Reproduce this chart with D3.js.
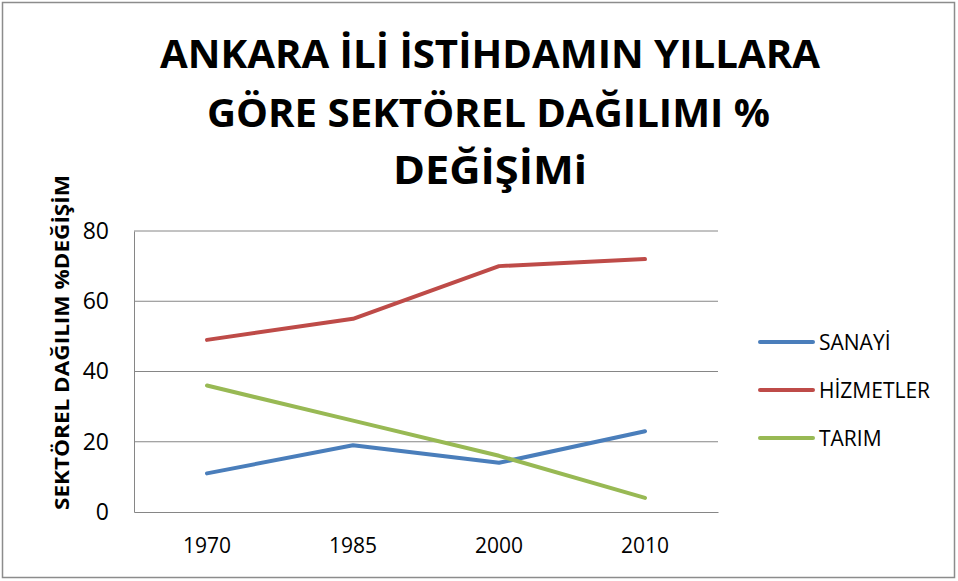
<!DOCTYPE html>
<html><head><meta charset="utf-8">
<script src="https://cdn.jsdelivr.net/npm/d3@7"></script>
<style>
body{margin:0;background:#fff;}
text{font-family:"Open Sans",sans-serif;}
</style></head>
<body>
<svg id="c" width="958" height="581"></svg>
<script>
const years = ["1970","1985","2000","2010"];
const seriesNames = ["SANAYİ","HİZMETLER","TARIM"];
const sanayi = [11,19,14,23];
const hizmetler = [49,55,70,72];
const tarim = [36,26,16,4];
const yTicks = [0,20,40,60,80];
const colors = ["#4A7EBB","#BE4B48","#98B954"];
const titleLines = ["ANKARA İLİ İSTİHDAMIN YILLARA","GÖRE SEKTÖREL DAĞILIMI %","DEĞİŞİMi"];
const yTitle = "SEKTÖREL DAĞILIM %DEĞİŞİM";

(function(){
const svg = d3.select("#c");
svg.append("rect").attr("x",2.5).attr("y",2.5).attr("width",952).attr("height",575)
  .attr("fill","#fff").attr("stroke","#8c8c8c").attr("stroke-width",1.5);

const pL=134,pR=718,pT=231,pB=512;
const x = d3.scaleBand().domain(years).range([pL,pR]);
const y = d3.scaleLinear().domain([0,80]).range([pB,pT]);

svg.append("g").selectAll("line").data(yTicks.filter(d=>d>0)).join("line")
  .attr("x1",pL).attr("x2",pR).attr("y1",d=>y(d)).attr("y2",d=>y(d))
  .attr("stroke","#868686").attr("stroke-width",1);

const ya = svg.append("g").attr("transform",`translate(${pL},0)`)
  .call(d3.axisLeft(y).tickValues(yTicks).tickSize(0).tickPadding(25));
ya.select(".domain").attr("stroke","#868686");
ya.selectAll("text").attr("font-size",23).attr("fill","#000").attr("textLength",null);

const xa = svg.append("g").attr("transform",`translate(0,${pB})`)
  .call(d3.axisBottom(x).tickSize(0).tickPadding(26));
xa.select(".domain").attr("stroke","#868686");
xa.selectAll("text").attr("font-size",21).attr("fill","#000");

const data = [sanayi,hizmetler,tarim];
const line = d3.line().x((d,i)=>x(years[i])+x.bandwidth()/2).y(d=>y(d));
svg.append("g").selectAll("path").data(data).join("path")
  .attr("d",line).attr("fill","none").attr("stroke",(d,i)=>colors[i])
  .attr("stroke-width",4).attr("stroke-linejoin","round").attr("stroke-linecap","round");

const lg = svg.append("g").selectAll("g").data(seriesNames).join("g")
  .attr("transform",(d,i)=>`translate(760,${342+i*48})`);
lg.append("line").attr("x1",0).attr("x2",53).attr("stroke",(d,i)=>colors[i])
  .attr("stroke-width",4).attr("stroke-linecap","round");
lg.append("text").attr("x",59).attr("y",8).attr("font-size",21).attr("fill","#000").text(d=>d);

const tl = [[160,820,68],[207,770,127],[393,587,184]];
svg.append("g").selectAll("text").data(titleLines).join("text")
  .attr("x",(d,i)=>tl[i][0]).attr("y",(d,i)=>tl[i][2])
  .attr("textLength",(d,i)=>tl[i][1]-tl[i][0]).attr("lengthAdjust","spacingAndGlyphs")
  .attr("font-size",39).attr("font-weight","bold").attr("fill","#000").text(d=>d);

svg.append("text").attr("transform","translate(69,510) rotate(-90)")
  .attr("textLength",335).attr("lengthAdjust","spacingAndGlyphs")
  .attr("font-size",19).attr("font-weight","bold").attr("fill","#000").text(yTitle);
})();
</script>
</body></html>
